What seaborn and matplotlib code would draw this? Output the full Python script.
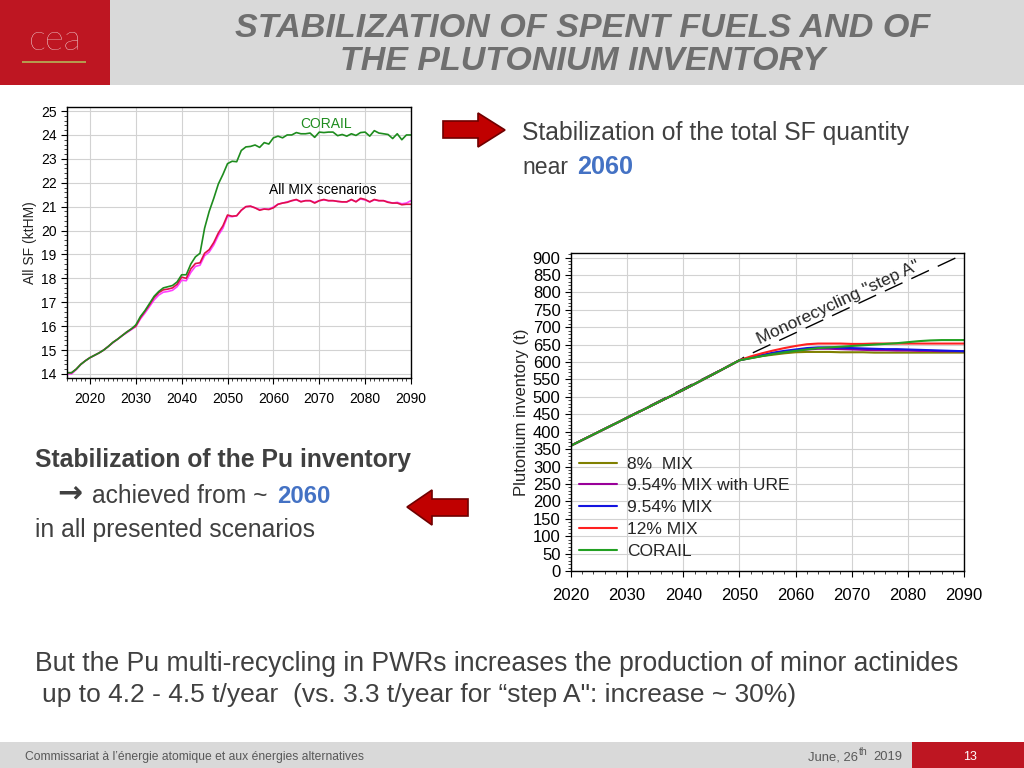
import matplotlib
matplotlib.use('Agg')
import pandas as pd
import matplotlib.pyplot as plt
import seaborn as sns
from matplotlib.patches import Rectangle, Polygon
from matplotlib.ticker import MultipleLocator
from matplotlib import font_manager

# ---- data: total spent fuel (ktHM)
sf_years = list(range(2015, 2091))
sf_corail = [14.05, 14.05, 14.2, 14.4, 14.55, 14.68, 14.78, 14.88, 15.0, 15.15,
             15.32, 15.45, 15.6, 15.75, 15.88, 16.05, 16.4, 16.65, 16.95, 17.25,
             17.45, 17.6, 17.65, 17.7, 17.85, 18.15, 18.15, 18.6, 18.9, 19.05,
             20.1, 20.8, 21.35, 21.95, 22.35, 22.8, 22.9, 22.88, 23.35, 23.5,
             23.52, 23.58, 23.48, 23.68, 23.62, 23.88, 23.95, 23.88, 24.0, 24.0,
             24.1, 24.05, 24.05, 24.08, 23.9, 24.12, 24.1, 24.12, 24.12, 23.97,
             24.02, 23.95, 24.05, 23.98, 24.1, 24.12, 23.95, 24.18, 24.08, 24.05,
             24.02, 23.85, 24.05, 23.8, 24.0, 24.0]
sf_mix_red = [14.05, 14.05, 14.2, 14.4, 14.55, 14.68, 14.78, 14.88, 15.0, 15.15,
              15.32, 15.45, 15.6, 15.75, 15.88, 16.0, 16.35, 16.62, 16.9, 17.2,
              17.4, 17.52, 17.55, 17.6, 17.75, 18.05, 18.0, 18.4, 18.62, 18.65,
              19.05, 19.2, 19.5, 19.9, 20.2, 20.65, 20.6, 20.62, 20.85, 21.0,
              21.02, 20.95, 20.85, 20.9, 20.88, 20.95, 21.1, 21.15, 21.18, 21.25,
              21.3, 21.2, 21.25, 21.25, 21.15, 21.25, 21.3, 21.25, 21.25, 21.22,
              21.2, 21.2, 21.3, 21.2, 21.35, 21.3, 21.2, 21.3, 21.25, 21.25,
              21.18, 21.15, 21.15, 21.08, 21.1, 21.1]
sf_mix_pink = [14.0, 14.0, 14.18, 14.4, 14.55, 14.68, 14.78, 14.88, 15.0, 15.15,
               15.3, 15.45, 15.6, 15.72, 15.85, 15.98, 16.3, 16.55, 16.82, 17.1,
               17.3, 17.42, 17.45, 17.5, 17.65, 17.92, 17.9, 18.25, 18.5, 18.55,
               18.95, 19.1, 19.4, 19.8, 20.1, 20.6, 20.58, 20.62, 20.85, 21.0,
               21.02, 20.95, 20.88, 20.9, 20.9, 20.98, 21.1, 21.15, 21.2, 21.25,
               21.28, 21.22, 21.25, 21.25, 21.18, 21.25, 21.28, 21.25, 21.25, 21.22,
               21.2, 21.2, 21.28, 21.22, 21.32, 21.28, 21.2, 21.28, 21.25, 21.25,
               21.2, 21.15, 21.18, 21.12, 21.15, 21.25]

# ---- data: plutonium inventory (t)
pu_years = [2020, 2025, 2030, 2035, 2040, 2045, 2050,
            2052, 2054, 2056, 2058, 2060, 2062, 2064, 2066, 2068, 2070,
            2072, 2074, 2076, 2078, 2080, 2082, 2084, 2086, 2088, 2090]
pu_8mix = [360, 400, 440, 480, 520, 562, 605,
           611, 617, 621, 625, 628, 629, 629, 629, 628, 628,
           628, 627, 627, 627, 627, 627, 627, 627, 627, 627]
pu_954ure = [360, 400, 440, 480, 520, 562, 605,
             612, 618, 624, 629, 633, 636, 638, 638, 637, 636,
             635, 634, 634, 633, 633, 632, 632, 631, 631, 631]
pu_954mix = [360, 400, 440, 480, 520, 562, 605,
             613, 620, 627, 632, 636, 640, 642, 642, 641, 640,
             639, 638, 637, 637, 636, 635, 634, 633, 632, 631]
pu_12mix = [360, 400, 440, 480, 520, 562, 605,
            616, 625, 633, 640, 646, 651, 653, 653, 653, 652,
            652, 653, 653, 653, 653, 653, 653, 653, 653, 653]
pu_corail = [360, 400, 440, 480, 520, 562, 605,
             611, 617, 623, 628, 632, 636, 640, 642, 644, 646,
             648, 650, 652, 654, 657, 660, 662, 663, 663, 663]
stepA_years = [2020, 2050, 2051, 2090]
stepA_pu = [360, 605, 616, 910]

pu_labels = ['8%  MIX', '9.54% MIX with URE', '9.54% MIX', '12% MIX', 'CORAIL']
pu_colors = ['#808000', '#990099', '#1414e0', '#ff2020', '#22a022']

W, H = 1024, 768
sns.set_style('white')
names = {f.name for f in font_manager.fontManager.ttflist}
NARROW = 'Liberation Sans Narrow' if 'Liberation Sans Narrow' in names else 'Liberation Sans'
plt.rcParams['font.family'] = ['Liberation Sans', 'DejaVu Sans']

fig = plt.figure(figsize=(10.24, 7.68), dpi=100)
renderer = fig.canvas.get_renderer()


def box(x0, y0, x1, y1):
    return [x0 / W, 1 - y1 / H, (x1 - x0) / W, (y1 - y0) / H]


def rect(x0, y0, x1, y1, color):
    fig.add_artist(Rectangle((x0 / W, 1 - y1 / H), (x1 - x0) / W, (y1 - y0) / H,
                             transform=fig.transFigure, color=color, lw=0))


def put(x0, x1, yb, s, **kw):
    # left-aligned text on baseline yb, scaled to span x0..x1 pixels
    t = fig.text(x0 / W, 1 - yb / H, s, ha='left', va='baseline', **kw)
    bb = t.get_window_extent(renderer)
    t.set_fontsize(t.get_fontsize() * (x1 - x0) / bb.width)
    return t


def arrow(pts):
    fig.add_artist(Polygon([(x / W, 1 - y / H) for x, y in pts], closed=True,
                           transform=fig.transFigure, fc='#c00000', ec='#700000', lw=1.2))


# header and footer bands
rect(0, 0, W, 85, '#d9d9d9')
rect(0, 0, 110, 85, '#be1622')
fig.text(55 / W, 1 - 40 / H, 'cea', ha='center', va='center', color='white',
         fontsize=26, family='Lato', fontweight='light')
rect(22, 61, 86, 63, '#b59a4e')
put(235, 931, 37, 'STABILIZATION OF SPENT FUELS AND OF', family=NARROW,
    fontweight='bold', fontstyle='italic', color='#6f6f6f', fontsize=26)
put(340, 826, 70, 'THE PLUTONIUM INVENTORY', family=NARROW,
    fontweight='bold', fontstyle='italic', color='#6f6f6f', fontsize=26)

rect(0, 742, W, H, '#d9d9d9')
rect(912, 742, W, H, '#be1622')
put(25, 364, 760, "Commissariat à l’énergie atomique et aux énergies alternatives",
    family=NARROW, color='#595959', fontsize=9)
put(808, 858, 760, 'June, 26', family=NARROW, color='#595959', fontsize=9)
put(859, 868, 755, 'th', family=NARROW, color='#595959', fontsize=6)
put(873, 902, 760, '2019', family=NARROW, color='#595959', fontsize=9)
fig.text(970 / W, 1 - 760 / H, '13', ha='center', va='baseline', color='white',
         fontsize=9, family=NARROW)

# slide texts
body = '#404040'
blue = '#4472c4'
put(522, 910, 140, 'Stabilization of the total SF quantity', family=NARROW, color=body, fontsize=18)
put(522, 568, 174, 'near', family=NARROW, color=body, fontsize=18)
put(577, 633, 174, '2060', family=NARROW, color=blue, fontweight='bold', fontsize=18)
put(35, 412, 467, 'Stabilization of the Pu inventory', family=NARROW, color=body,
    fontweight='bold', fontsize=18)
put(57, 82, 501, '→', family='DejaVu Sans', color=body, fontweight='bold', fontsize=16)
put(92, 268, 503, 'achieved from ~', family=NARROW, color=body, fontsize=18)
put(277, 330, 503, '2060', family=NARROW, color=blue, fontweight='bold', fontsize=18)
put(35, 315, 537, 'in all presented scenarios', family=NARROW, color=body, fontsize=18)
put(35, 957, 671, 'But the Pu multi-recycling in PWRs increases the production of minor actinides',
    family=NARROW, color=body, fontsize=18)
put(42, 797, 702, 'up to 4.2 - 4.5 t/year  (vs. 3.3 t/year for “step A": increase ~ 30%)',
    family=NARROW, color=body, fontsize=18)

arrow([(443, 121), (478, 121), (478, 113), (505, 130), (478, 147), (478, 138), (443, 138)])
arrow([(407, 507), (432, 490), (432, 499), (468, 499), (468, 516), (432, 516), (432, 525)])

# ---- left chart: all spent fuel
ax1 = fig.add_axes(box(67, 107, 411, 378))
n = len(sf_years)
sf_df = pd.DataFrame({
    'year': sf_years * 3,
    'kthm': sf_mix_pink + sf_mix_red + sf_corail,
    'scenario': ['MIX b'] * n + ['MIX a'] * n + ['CORAIL'] * n,
})
sns.lineplot(data=sf_df, x='year', y='kthm', hue='scenario',
             hue_order=['MIX b', 'MIX a', 'CORAIL'],
             palette=['#ff40ff', '#e0104a', '#1e8c1e'], linewidth=1.2, legend=False, ax=ax1)
ax1.set_xlim(2015, 2090)
ax1.set_ylim(13.83, 25.17)
ax1.xaxis.set_major_locator(MultipleLocator(10))
ax1.xaxis.set_minor_locator(MultipleLocator(1))
ax1.yaxis.set_major_locator(MultipleLocator(1))
ax1.yaxis.set_minor_locator(MultipleLocator(0.2))
ax1.grid(True, which='major', color='#d2d2d2', lw=0.8)
ax1.tick_params(which='major', direction='out', length=4, width=0.8, labelsize=10,
                left=True, bottom=True, colors='black')
ax1.tick_params(axis='x', which='major', pad=6)
ax1.tick_params(which='minor', direction='out', length=2, width=0.6, left=True, bottom=True)
ax1.set_xlabel('')
ax1.set_ylabel('All SF (ktHM)', fontsize=10, labelpad=3)
for s in ax1.spines.values():
    s.set_color('black')
    s.set_linewidth(1)
ax1.text(2071.5, 24.45, 'CORAIL', color='#1e8c1e', fontsize=10, ha='center', va='center')
ax1.text(2070.7, 21.7, 'All MIX scenarios', color='black', fontsize=10, ha='center', va='center')

# ---- right chart: plutonium inventory
ax2 = fig.add_axes(box(571, 253, 964, 571))
ax2.plot(stepA_years, stepA_pu, color='black', lw=1, dashes=(14, 7))
m = len(pu_years)
pu_df = pd.DataFrame({
    'year': pu_years * 5,
    'pu': pu_8mix + pu_954ure + pu_954mix + pu_12mix + pu_corail,
    'scenario': [lab for lab in pu_labels for _ in range(m)],
})
sns.lineplot(data=pu_df, x='year', y='pu', hue='scenario', hue_order=pu_labels,
             palette=pu_colors, linewidth=1.5, ax=ax2)
handles, labels = ax2.get_legend_handles_labels()
ax2.legend(handles[-5:], labels[-5:], loc='upper left', bbox_to_anchor=(0.02, 0.36),
           frameon=False, fontsize=12.5, handlelength=2.2, handletextpad=0.6,
           labelspacing=0.38, borderaxespad=0, borderpad=0)
ax2.set_xlim(2020, 2090)
ax2.set_ylim(0, 913)
ax2.xaxis.set_major_locator(MultipleLocator(10))
ax2.xaxis.set_minor_locator(MultipleLocator(2))
ax2.yaxis.set_major_locator(MultipleLocator(50))
ax2.yaxis.set_minor_locator(MultipleLocator(10))
ax2.grid(True, which='major', color='#d2d2d2', lw=0.8)
ax2.tick_params(which='major', direction='out', length=4, width=0.8, labelsize=12,
                left=True, bottom=True, colors='black')
ax2.tick_params(axis='x', which='major', pad=8)
ax2.tick_params(which='minor', direction='out', length=2, width=0.6, left=True, bottom=True)
ax2.set_xlabel('')
ax2.set_ylabel('Plutonium inventory (t)', fontsize=12, labelpad=3)
for s in ax2.spines.values():
    s.set_color('black')
    s.set_linewidth(1)
ax2.text(2067.6, 772, 'Monorecycling "step A"', fontsize=12.5, rotation=25,
         rotation_mode='anchor', ha='center', va='center')

fig.savefig('out.png', dpi=100)
